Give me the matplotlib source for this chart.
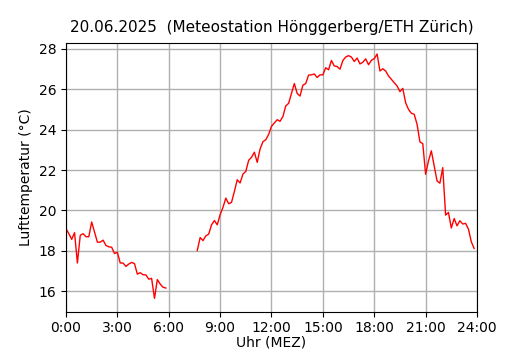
import numpy as np
import matplotlib
matplotlib.use("Agg")
import matplotlib.pyplot as plt

# 10-minute values, 0:00 .. 23:50 (nan = no data)
temp_night = [19.1, 18.85, 18.57, 18.9, 17.4, 18.77, 18.85, 18.7, 18.7, 19.43,
              18.93, 18.43, 18.43, 18.53, 18.27, 18.2, 18.18, 17.87, 17.93, 17.4,
              17.4, 17.23, 17.35, 17.43, 17.37, 16.85, 16.92, 16.82, 16.81, 16.6,
              16.64, 15.65, 16.58, 16.36, 16.2, 16.16]
temp_gap = [np.nan] * 10   # 6:00 .. 7:30 missing
temp_day = [18.02, 18.66, 18.51, 18.74, 18.83, 19.29, 19.5, 19.29, 19.79, 20.15,
            20.61, 20.33, 20.4, 20.94, 21.52, 21.36, 21.8, 21.93, 22.48, 22.63,
            22.88, 22.38, 23.04, 23.4, 23.5, 23.76, 24.16, 24.33, 24.49, 24.41,
            24.65, 25.17, 25.3, 25.79, 26.28, 25.79, 25.66, 26.2, 26.28, 26.7,
            26.71, 26.75, 26.58, 26.71, 26.71, 27.06, 26.96, 27.42, 27.15, 27.12,
            26.99, 27.42, 27.59, 27.66, 27.59, 27.37, 27.54, 27.25, 27.33, 27.5,
            27.21, 27.43, 27.51, 27.74, 26.9, 27.01, 26.9, 26.65, 26.49, 26.32,
            26.16, 25.88, 26.04, 25.33, 25.0, 24.81, 24.76, 24.26, 23.39, 23.31,
            21.79, 22.45, 22.95, 22.21, 21.46, 21.35, 22.12, 19.77, 19.9, 19.13,
            19.6, 19.24, 19.49, 19.33, 19.36, 19.08, 18.45, 18.12]

temp = np.array(temp_night + temp_gap + temp_day)
hours = np.arange(len(temp)) / 6.0

xticks = [0, 3, 6, 9, 12, 15, 18, 21, 24]
xticklabels = ["%d:00" % h for h in xticks]

fig = plt.figure(figsize=(5.3, 3.5), dpi=100)
ax = fig.add_axes([0.1245, 0.110, 0.7755, 0.768])
ax.plot(hours, temp, "-", color="red", linewidth=1)

ax.set_xlim(0, 24)
ax.set_ylim(15.0, 28.3)
ax.set_xticks(xticks)
ax.set_xticklabels(xticklabels)
ax.set_yticks([16, 18, 20, 22, 24, 26, 28])
ax.tick_params(axis="x", pad=3)
ax.grid(True, color="#b0b0b0", linewidth=1)

ax.set_title("20.06.2025  (Meteostation Hönggerberg/ETH Zürich)", fontsize=11, pad=7.5)
ax.set_xlabel("Uhr (MEZ)", labelpad=1)
ax.set_ylabel("Lufttemperatur (°C)")

fig.savefig("out.png", dpi=100)
